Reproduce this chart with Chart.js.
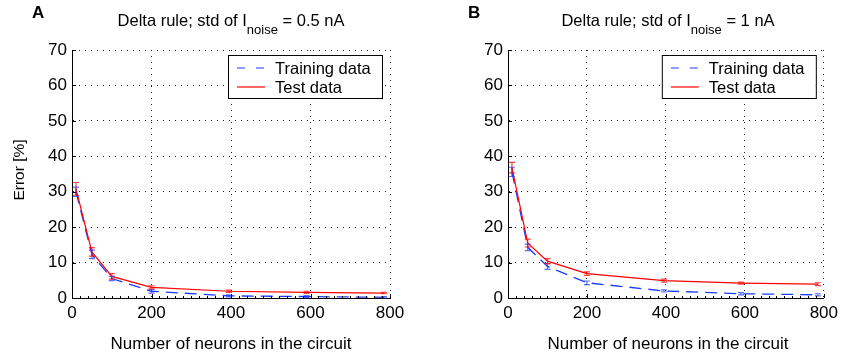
<!DOCTYPE html>
<html>
<head>
<meta charset="utf-8">
<script src="https://cdn.jsdelivr.net/npm/chart.js@4.4.1/dist/chart.umd.min.js"></script>
<style>
  body { margin: 0; background: #fff; font-family: "Liberation Sans", Arial, sans-serif; }
  #wrap { position: relative; width: 843px; height: 357px; overflow: hidden; }
  canvas { position: absolute; top: 0; }
  .txt { position: absolute; color: #000; white-space: nowrap; font-size: 16.5px; line-height: 19px; }
  .letter { font-weight: bold; font-size: 17px; }
  .title { text-align: center; }
  .title span { font-size: 13px; position: relative; top: 8px; }
  .xlab { font-size: 17px; }
</style>
</head>
<body>
<div id="wrap">
  <canvas id="chartA" width="421" height="357" style="left:0px"></canvas>
  <canvas id="chartB" width="422" height="357" style="left:421px"></canvas>

  <div class="txt letter" style="left:32px; top:3px;">A</div>
  <div class="txt letter" style="left:468px; top:3px;">B</div>

  <div class="txt title" style="left:72px; width:318px; top:11px;">Delta rule; std of I<span>noise</span> = 0.5 nA</div>
  <div class="txt title" style="left:508px; width:320px; top:11px;">Delta rule; std of I<span>noise</span> = 1 nA</div>

  <div class="txt title xlab" style="left:72px; width:318px; top:334px;">Number of neurons in the circuit</div>
  <div class="txt title xlab" style="left:508px; width:320px; top:334px;">Number of neurons in the circuit</div>
</div>

<script>
// --- data ---
const neurons = [10, 50, 100, 200, 395, 590, 785];

// panel A: std of I_noise = 0.5 nA
const trainA    = [30.0, 12.3, 5.5, 1.9, 0.6, 0.4, 0.2];
const trainErrA = [1.3, 1.2, 0.6, 0.5, 0.3, 0.3, 0.2];
const testA     = [30.8, 13.0, 6.1, 3.0, 1.9, 1.6, 1.4];
const testErrA  = [1.8, 1.2, 0.8, 0.4, 0.3, 0.3, 0.2];

// panel B: std of I_noise = 1 nA
const trainB    = [35.6, 14.3, 8.9, 4.3, 2.0, 1.2, 0.9];
const trainErrB = [1.3, 0.9, 0.8, 0.5, 0.3, 0.3, 0.3];
const testB     = [36.8, 15.5, 10.4, 6.9, 4.9, 4.2, 3.9];
const testErrB  = [1.5, 1.1, 0.7, 0.5, 0.4, 0.3, 0.4];

const xTicks = [0, 200, 400, 600, 800];
const yTicks = [0, 10, 20, 30, 40, 50, 60, 70];
const seriesNames = ["Training data", "Test data"];

const FONT = "Liberation Sans, Arial, sans-serif";
const BLUE = "#1a3cff";
const RED = "#ff0000";

// error bars with small caps
const errorBars = {
  id: "errorBars",
  afterDatasetsDraw(chart) {
    const ctx = chart.ctx;
    const ys = chart.scales.y;
    chart.data.datasets.forEach((ds, di) => {
      const meta = chart.getDatasetMeta(di);
      ctx.save();
      ctx.strokeStyle = ds.barColor;
      ctx.lineWidth = 1.2;
      meta.data.forEach((pt, i) => {
        const v = ds.data[i].y;
        const e = ds.errors[i];
        const top = ys.getPixelForValue(v + e);
        const bot = ys.getPixelForValue(v - e);
        ctx.beginPath();
        ctx.moveTo(pt.x, top); ctx.lineTo(pt.x, bot);
        ctx.moveTo(pt.x - 3, top); ctx.lineTo(pt.x + 3, top);
        ctx.moveTo(pt.x - 3, bot); ctx.lineTo(pt.x + 3, bot);
        ctx.stroke();
      });
      ctx.restore();
    });
  }
};

// inward tick marks, matlab style
const inwardTicks = {
  id: "inwardTicks",
  afterDraw(chart) {
    const ctx = chart.ctx;
    const xs = chart.scales.x, ys = chart.scales.y;
    const a = chart.chartArea;
    ctx.save();
    ctx.strokeStyle = "#000";
    ctx.lineWidth = 1;
    ctx.beginPath();
    for (let v = 0; v <= 800; v += 20) {
      const x = Math.round(xs.getPixelForValue(v)) + 0.5;
      const len = (v % 200 === 0) ? 4 : 2;
      ctx.moveTo(x, a.bottom); ctx.lineTo(x, a.bottom - len);
    }
    yTicks.forEach(v => {
      const y = Math.round(ys.getPixelForValue(v)) + 0.5;
      ctx.moveTo(a.left, y); ctx.lineTo(a.left + 4, y);
    });
    ctx.stroke();
    ctx.restore();
  }
};

// legend box in the top right corner
const boxLegend = {
  id: "boxLegend",
  afterDraw(chart) {
    const ctx = chart.ctx;
    const a = chart.chartArea;
    const w = 154, h = 43;
    const x0 = a.right - 8 - w, y0 = 55;
    ctx.save();
    ctx.fillStyle = "#fff";
    ctx.fillRect(x0, y0, w, h);
    ctx.strokeStyle = "#000";
    ctx.lineWidth = 1;
    ctx.strokeRect(x0 + 0.5, y0 + 0.5, w, h);
    ctx.font = "16.5px " + FONT;
    ctx.textBaseline = "middle";
    const rows = [
      { name: seriesNames[0], color: BLUE, dash: [8, 11] },
      { name: seriesNames[1], color: RED, dash: [] }
    ];
    rows.forEach((r, i) => {
      const y = y0 + 13 + i * 19;
      ctx.strokeStyle = r.color;
      ctx.lineWidth = 1.2;
      ctx.setLineDash(r.dash);
      ctx.beginPath();
      ctx.moveTo(x0 + 9, y); ctx.lineTo(x0 + 37, y);
      ctx.stroke();
      ctx.setLineDash([]);
      ctx.fillStyle = "#000";
      ctx.fillText(r.name, x0 + 47, y + 1);
    });
    ctx.restore();
  }
};

// y axis title, only on the left panel
const yTitle = {
  id: "yTitle",
  afterDraw(chart) {
    const ctx = chart.ctx;
    ctx.save();
    ctx.translate(20, 170);
    ctx.rotate(-Math.PI / 2);
    ctx.font = "15.5px " + FONT;
    ctx.fillStyle = "#000";
    ctx.textAlign = "center";
    ctx.textBaseline = "middle";
    ctx.fillText("Error [%]", 0, 0);
    ctx.restore();
  }
};

function makePanel(id, train, trainErr, test, testErr, yWidth, padRight, extra) {
  const toPts = arr => arr.map((v, i) => ({ x: neurons[i], y: v }));
  return new Chart(document.getElementById(id), {
    type: "line",
    data: {
      datasets: [
        {
          label: seriesNames[0],
          data: toPts(train),
          errors: trainErr,
          borderColor: BLUE,
          barColor: "rgba(30,60,255,0.75)",
          borderWidth: 1.3,
          borderDash: [12, 7],
          pointRadius: 0,
          tension: 0,
          order: 1
        },
        {
          label: seriesNames[1],
          data: toPts(test),
          errors: testErr,
          borderColor: RED,
          barColor: "rgba(255,0,0,0.75)",
          borderWidth: 1.2,
          pointRadius: 0,
          tension: 0,
          order: 0
        }
      ]
    },
    options: {
      responsive: false,
      animation: false,
      events: [],
      layout: { padding: { left: 0, top: 50, right: padRight, bottom: 0 } },
      plugins: {
        legend: { display: false },
        tooltip: { enabled: false }
      },
      scales: {
        x: {
          type: "linear",
          min: 0, max: 800,
          afterFit(s) { s.height = 59; },
          afterBuildTicks(s) { s.ticks = xTicks.map(v => ({ value: v })); },
          grid: { color: "#222", lineWidth: 1, drawTicks: false },
          border: { display: true, color: "#000", width: 1, dash: [1, 5] },
          ticks: { color: "#000", padding: 5, font: { family: FONT, size: 17 } }
        },
        y: {
          type: "linear",
          min: 0, max: 70,
          afterFit(s) { s.width = yWidth; },
          afterBuildTicks(s) { s.ticks = yTicks.map(v => ({ value: v })); },
          grid: { color: "#222", lineWidth: 1, drawTicks: false },
          border: { display: true, color: "#000", width: 1, dash: [1, 5] },
          ticks: { color: "#000", padding: 5, font: { family: FONT, size: 17 } }
        }
      }
    },
    plugins: [errorBars, inwardTicks, boxLegend].concat(extra)
  });
}

makePanel("chartA", trainA, trainErrA, testA, testErrA, 72, 31, [yTitle]);
makePanel("chartB", trainB, trainErrB, testB, testErrB, 87, 15, []);
</script>
</body>
</html>
